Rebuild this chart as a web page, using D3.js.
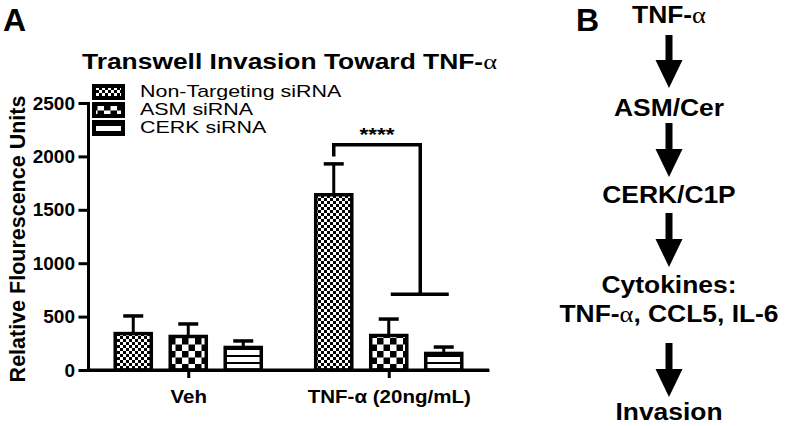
<!DOCTYPE html>
<html><head><meta charset="utf-8">
<script src="https://cdn.jsdelivr.net/npm/d3@7"></script>
<style>
html,body{margin:0;padding:0;background:#fff;}
svg{display:block;}
text{font-family:"Liberation Sans",Arial,sans-serif;fill:#000;}
</style></head>
<body>
<svg id="chart" width="790" height="426"></svg>
<script>
// ---- data ----
const categories = ["Veh", "TNF-α (20ng/mL)"];
const seriesNames = ["Non-Targeting siRNA", "ASM siRNA", "CERK siRNA"];
const meanValues = [
  [355, 1655],   // Non-Targeting
  [328, 337],    // ASM
  [225, 169]     // CERK
];
const errorTops = [
  [506, 1930],
  [431, 477],
  [272, 215]
];
const yTicks = [0, 500, 1000, 1500, 2000, 2500];
const bracketLevels = [2000, 2110, 710]; // left drop end, top bar, lower bar
const sigLabel = "****";
const pathwaySteps = ["TNF-α", "ASM/Cer", "CERK/C1P", "Cytokines:", "TNF-α, CCL5, IL-6", "Invasion"];

const svg = d3.select("#chart");
const defs = svg.append("defs");

// patterns
const p1 = defs.append("pattern").attr("id","pFine").attr("patternUnits","userSpaceOnUse").attr("width",6).attr("height",6);
p1.append("rect").attr("width",6).attr("height",6).attr("fill","#fff");
p1.append("rect").attr("width",3).attr("height",3).attr("fill","#000");
p1.append("rect").attr("x",3).attr("y",3).attr("width",3).attr("height",3).attr("fill","#000");
const p2 = defs.append("pattern").attr("id","pBig").attr("patternUnits","userSpaceOnUse").attr("width",13).attr("height",13);
p2.append("rect").attr("width",13).attr("height",13).attr("fill","#fff");
p2.append("rect").attr("width",6.5).attr("height",6.5).attr("fill","#000");
p2.append("rect").attr("x",6.5).attr("y",6.5).attr("width",6.5).attr("height",6.5).attr("fill","#000");
const p3 = defs.append("pattern").attr("id","pStripe").attr("patternUnits","userSpaceOnUse").attr("width",8).attr("height",7);
p3.append("rect").attr("width",8).attr("height",7).attr("fill","#fff");
p3.append("rect").attr("y",5).attr("width",8).attr("height",2).attr("fill","#000");
const fills = ["url(#pFine)","url(#pBig)","url(#pStripe)"];

// scales
const y = d3.scaleLinear().domain([0,2500]).range([370,103]);
const x = d3.scalePoint().domain(categories).range([88,489]).padding(0.5);
const xs = d3.scaleBand().domain(d3.range(seriesNames.length)).range([-82.5,82.5]).paddingInner(0.29).paddingOuter(0.145);

// panel letters
svg.append("text").attr("x",3).attr("y",31).attr("font-size",32).attr("font-weight","bold").text("A");
svg.append("text").attr("x",576).attr("y",31).attr("font-size",32).attr("font-weight","bold").text("B");

// title
const title = svg.append("text").attr("font-size",22).attr("font-weight","bold")
  .attr("transform","translate(82,69) scale(1.2,1)");
title.append("tspan").text("Transwell Invasion Toward TNF-");
title.append("tspan").attr("font-family","'Liberation Serif',serif").attr("font-weight","normal").text("α");

// axes
const yAxis = d3.axisLeft(y).tickValues(yTicks).tickFormat(d3.format("d")).tickSizeOuter(0).tickSizeInner(8).tickPadding(5);
const gy = svg.append("g").attr("transform","translate(88,0)").call(yAxis);
gy.selectAll("path,line").attr("stroke","#000").attr("stroke-width",3).attr("stroke-linecap","square");
gy.selectAll("text").attr("font-size",19).attr("font-weight","bold").attr("font-family","'Liberation Sans',Arial,sans-serif");

const xAxis = d3.axisBottom(x).tickSizeOuter(0).tickSizeInner(8).tickPadding(6);
const gx = svg.append("g").attr("transform","translate(0,370)").call(xAxis);
gx.select("path").attr("stroke","#000").attr("stroke-width",3);
gx.selectAll("line").attr("stroke","#000").attr("stroke-width",3);
gx.selectAll("text").attr("font-size",18).attr("font-weight","bold").attr("font-family","'Liberation Sans',Arial,sans-serif")
  .attr("dy","1.08em")
  .attr("transform","scale(1.14,1)")
  .attr("x",0);

// y label
svg.append("text").attr("transform","translate(25,239) rotate(-90)").attr("text-anchor","middle")
  .attr("font-size",21.5).attr("font-weight","bold").text("Relative Flourescence Units");

// bars
seriesNames.forEach((name, si) => {
  categories.forEach((cat, ci) => {
    const bx = x(cat) + xs(si);
    const bw = xs.bandwidth();
    const v = meanValues[si][ci];
    const e = errorTops[si][ci];
    const cx = bx + bw/2;
    svg.append("line").attr("x1",cx).attr("x2",cx).attr("y1",y(v)).attr("y2",y(e)).attr("stroke","#000").attr("stroke-width",3);
    svg.append("line").attr("x1",cx-10).attr("x2",cx+10).attr("y1",y(e)).attr("y2",y(e)).attr("stroke","#000").attr("stroke-width",3.5);
    svg.append("rect").attr("x",bx+1.5).attr("y",y(v)+1.5).attr("width",bw-3).attr("height",y(0)-y(v)-1.5)
      .attr("fill",fills[si]).attr("stroke","#000").attr("stroke-width",3.5);
  });
});
svg.append("line").attr("x1",88).attr("x2",489).attr("y1",370).attr("y2",370).attr("stroke","#000").attr("stroke-width",3);

// significance bracket
const tnf = categories[1];
const xl = x(tnf) + xs(0) + xs.bandwidth()/2;
const xm = x(tnf) + xs(1) + xs.bandwidth()/2;
const xr = x(tnf) + xs(2) + xs.bandwidth()/2;
const xBr = (xm + xr)/2 + 4;
svg.append("path").attr("d", `M${xl},${y(bracketLevels[0])}V${y(bracketLevels[1])}H${xBr}V${y(bracketLevels[2])}`)
  .attr("fill","none").attr("stroke","#000").attr("stroke-width",3.5);
svg.append("line").attr("x1",xm+2).attr("x2",xr+5).attr("y1",y(bracketLevels[2])).attr("y2",y(bracketLevels[2]))
  .attr("stroke","#000").attr("stroke-width",3.5);
svg.append("text").attr("text-anchor","middle").attr("font-size",18).attr("font-weight","bold")
  .attr("transform",`translate(${(xl+xBr)/2},141) scale(1.25,1)`).text(sigLabel);

// legend
const legY = [84, 102, 120];
const legBase = [97, 115, 133];
seriesNames.forEach((name, i) => {
  svg.append("rect").attr("x",94).attr("y",legY[i]+2).attr("width",29).attr("height",12)
    .attr("fill",fills[i]).attr("stroke","#000").attr("stroke-width",4);
  svg.append("text").attr("font-size",16).attr("transform",`translate(140,${legBase[i]}) scale(1.34,1)`).text(name);
});

// panel B
const bx0 = 669;
const stepBase = [23, 116, 203, 293, 322, 420];
function addStep(txt, yb){
  const parts = txt.split("α");
  const t = svg.append("text").attr("text-anchor","middle").attr("font-size",24).attr("font-weight","bold")
    .attr("transform",`translate(${bx0},${yb}) scale(1.1,1)`);
  parts.forEach((p, i) => {
    t.append("tspan").text(p);
    if (i < parts.length-1) t.append("tspan").attr("font-family","'Liberation Serif',serif").attr("font-weight","normal").text("α");
  });
}
pathwaySteps.forEach((s, i) => addStep(s, stepBase[i]));
const arrows = [[35,88],[123,177],[213,267],[343,397]];
arrows.forEach(([a,b]) => {
  svg.append("rect").attr("x",bx0-3.5).attr("y",a).attr("width",7).attr("height",b-a-26);
  svg.append("path").attr("d",`M${bx0-13.5},${b-28}L${bx0+13.5},${b-28}L${bx0},${b}Z`).attr("fill","#000");
});
</script>
</body></html>
